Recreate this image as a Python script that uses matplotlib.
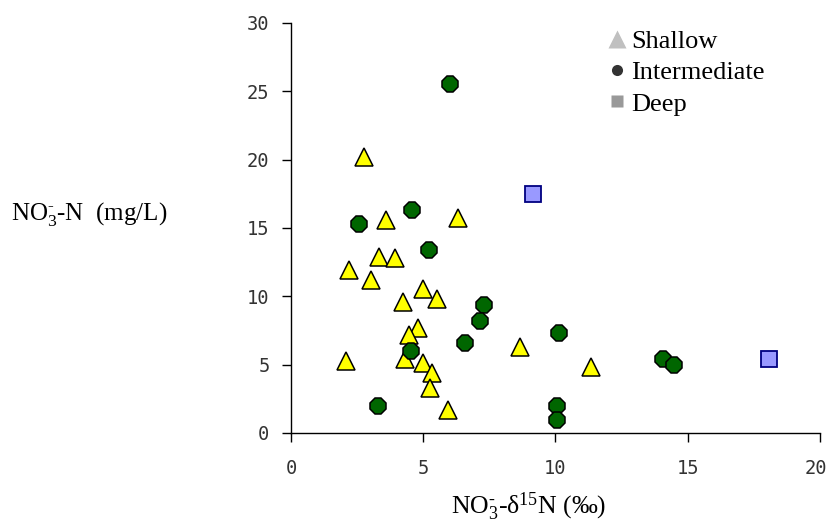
import matplotlib.pyplot as plt
from matplotlib.lines import Line2D
from matplotlib.transforms import ScaledTranslation

# NO3-d15N (permil) vs NO3-N (mg/L) by well depth
shallow_d15n = [2.76, 6.31, 3.59, 3.33, 3.93, 2.19, 3.02, 4.99, 5.52, 4.23,
                4.80, 4.46, 4.31, 5.00, 5.33, 5.26, 5.93, 2.08, 8.66, 11.34]
shallow_no3 = [20.2, 15.7, 15.6, 12.9, 12.8, 11.9, 11.2, 10.5, 9.8, 9.6,
               7.7, 7.2, 5.4, 5.1, 4.4, 3.3, 1.7, 5.3, 6.3, 4.8]

inter_d15n = [6.01, 4.56, 2.57, 5.23, 7.30, 7.15, 6.58, 4.53, 3.30,
              10.13, 14.07, 14.48, 10.06, 10.06]
inter_no3 = [25.5, 16.3, 15.3, 13.4, 9.4, 8.2, 6.6, 6.0, 2.0,
             7.3, 5.4, 5.0, 2.0, 0.95]

deep_d15n = [9.15, 18.07]
deep_no3 = [17.5, 5.4]

plt.rcParams['mathtext.fontset'] = 'custom'
plt.rcParams['mathtext.rm'] = 'Liberation Serif'
plt.rcParams['mathtext.it'] = 'Liberation Serif:italic'
plt.rcParams['mathtext.bf'] = 'Liberation Serif:bold'

serif = ['Liberation Serif', 'DejaVu Serif']
tick_font = 'DejaVu Sans Mono'

fig = plt.figure(figsize=(8.3, 5.23), dpi=100)
ax = fig.add_axes([0.3506, 0.1721, 0.6373, 0.784])

ax.plot(shallow_d15n, shallow_no3, linestyle='none', marker='^', ms=12.5,
        mfc='#ffff00', mec='black', mew=1.1, zorder=3)
ax.plot(inter_d15n, inter_no3, linestyle='none', marker='8', ms=12,
        mfc='#006600', mec='black', mew=1.1, zorder=3)
ax.plot(deep_d15n, deep_no3, linestyle='none', marker='s', ms=11.2,
        mfc='#9999ff', mec='#000080', mew=1.3, zorder=3)

ax.set_xlim(0, 20)
ax.set_ylim(0, 30)
ax.set_xticks([0, 5, 10, 15, 20])
ax.set_yticks([0, 5, 10, 15, 20, 25, 30])
for s in ['top', 'right']:
    ax.spines[s].set_visible(False)
for s in ['left', 'bottom']:
    ax.spines[s].set_linewidth(1.0)
ax.tick_params(direction='out', length=6.5, width=1.0,
               labelsize=13.5, labelcolor='#333333')
ax.tick_params(axis='x', pad=12)
ax.tick_params(axis='y', pad=9)
for lbl in ax.get_xticklabels() + ax.get_yticklabels():
    lbl.set_family(tick_font)
# keep the last x label inside the figure edge
last = ax.get_xticklabels()[-1]
last.set_transform(last.get_transform() +
                   ScaledTranslation(-4 / 100, 0, fig.dpi_scale_trans))

no3 = r'$\mathrm{NO_3^{\text{-}}}$'
ax.set_xlabel(no3 + r'-δ$^{15}$N (‰)', family=serif, fontsize=18.5)
ax.xaxis.set_label_coords(0.45, -0.14)
ax.xaxis.label.set_va('top')
fig.text(0.013, 0.59, no3 + '-N  (mg/L)', family=serif,
         fontsize=18, ha='left', va='center')

handles = [
    Line2D([], [], linestyle='none', marker='^', ms=13, mfc='#c0c0c0', mec='none'),
    Line2D([], [], linestyle='none', marker='o', ms=8, mfc='#333333', mec='none'),
    Line2D([], [], linestyle='none', marker='s', ms=9, mfc='#999999', mec='none'),
]
ax.legend(handles, ['Shallow', 'Intermediate', 'Deep'], loc='upper right',
          bbox_to_anchor=(0.916, 1.01), frameon=False,
          prop={'family': serif, 'size': 19}, handletextpad=0.1,
          handlelength=0.9, labelspacing=0.3, borderaxespad=0)

fig.savefig('out.png', dpi=100)
